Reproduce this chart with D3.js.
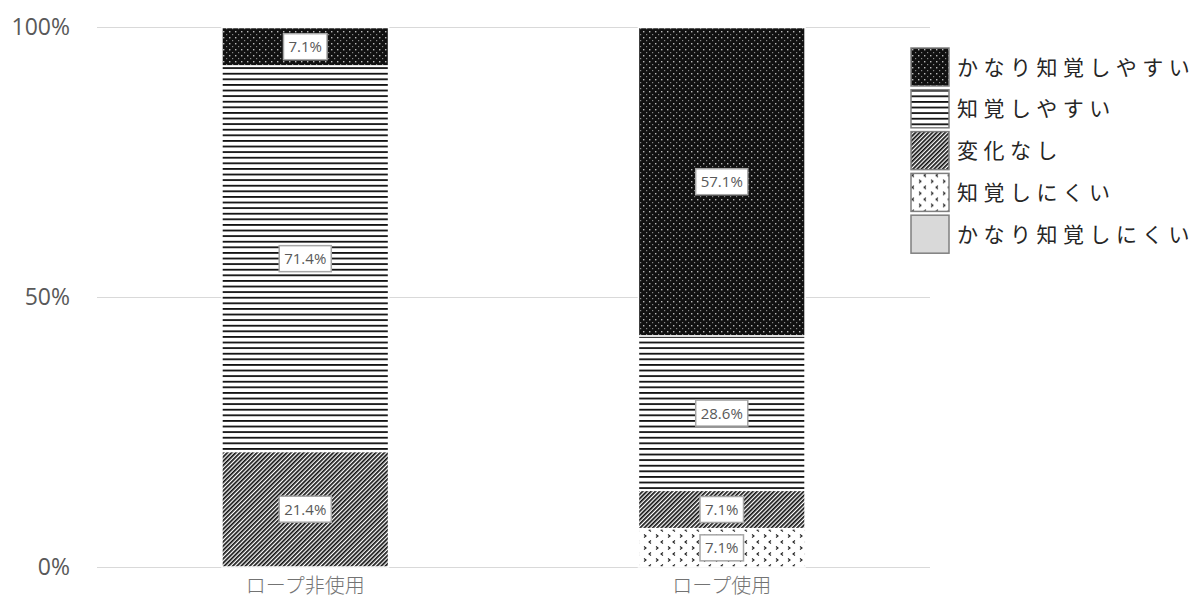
<!DOCTYPE html>
<html>
<head>
<meta charset="utf-8">
<script src="https://cdn.jsdelivr.net/npm/d3@7"></script>
<style>
  body { margin: 0; background: #fff; }
  text { font-family: "Open Sans", "Noto Sans CJK JP", sans-serif; }
  .jp { font-family: "Noto Sans CJK JP", sans-serif; }
</style>
</head>
<body>
<svg id="chart" width="1202" height="610"></svg>
<script>
// categories and series (bottom to top)
var categories = ["ロープ非使用", "ロープ使用"];
var seriesNames = ["かなり知覚しにくい", "知覚しにくい", "変化なし", "知覚しやすい", "かなり知覚しやすい"];
var seriesValues = {
  "かなり知覚しにくい": [0, 0],
  "知覚しにくい":       [0, 7.1],
  "変化なし":           [21.4, 7.1],
  "知覚しやすい":       [71.4, 28.6],
  "かなり知覚しやすい": [7.1, 57.1]
};
var yTicks = [0, 50, 100];
var legendOrder = ["かなり知覚しやすい", "知覚しやすい", "変化なし", "知覚しにくい", "かなり知覚しにくい"];

var svg = d3.select('#chart');
var margin = {left: 97, right: 272, top: 27, bottom: 43};
var W = 1202, H = 610;

var x = d3.scaleBand().domain(categories).range([margin.left, W - margin.right]).paddingInner(0.6).paddingOuter(0.3);
var y = d3.scaleLinear().domain([0, 100]).range([H - margin.bottom, margin.top]);

//Patterns
var defs = svg.append('defs');
var pid = {};
seriesNames.forEach(function(s, i){ pid[s] = 'pat' + i; });

// dots on black
var p = defs.append('pattern').attr('id', pid["かなり知覚しやすい"]).attr('patternUnits','userSpaceOnUse').attr('width', 6).attr('height', 6);
p.append('rect').attr('width', 6).attr('height', 6).attr('fill', '#111');
p.append('rect').attr('x', 1).attr('y', 1).attr('width', 1.4).attr('height', 1.4).attr('fill', '#bbb');
p.append('rect').attr('x', 4).attr('y', 4).attr('width', 1.2).attr('height', 1.2).attr('fill', '#888');

// horizontal lines
p = defs.append('pattern').attr('id', pid["知覚しやすい"]).attr('patternUnits','userSpaceOnUse').attr('width', 8).attr('height', 5.6);
p.append('rect').attr('width', 8).attr('height', 5.6).attr('fill', '#fff');
p.append('rect').attr('y', 0).attr('width', 8).attr('height', 1.8).attr('fill', '#111');

// diagonal stripes
p = defs.append('pattern').attr('id', pid["変化なし"]).attr('patternUnits','userSpaceOnUse').attr('width', 3).attr('height', 3).attr('patternTransform', 'rotate(45)');
p.append('rect').attr('width', 3).attr('height', 3).attr('fill', '#fff');
p.append('rect').attr('width', 1.7).attr('height', 3).attr('fill', '#111');

// small confetti
p = defs.append('pattern').attr('id', pid["知覚しにくい"]).attr('patternUnits','userSpaceOnUse').attr('width', 12).attr('height', 12);
p.append('rect').attr('width', 12).attr('height', 12).attr('fill', '#fff');
p.append('path').attr('d', 'M3,0.5 L1,2 L3,3.5 M8,6.5 L10,8 L8,9.5')
  .attr('fill', 'none').attr('stroke', '#222').attr('stroke-width', 1.1);

//Gridlines
svg.append('g').selectAll('line').data(yTicks).enter().append('line')
  .attr('x1', margin.left).attr('x2', W - margin.right + 0)
  .attr('y1', function(d){ return y(d) + 0.5; }).attr('y2', function(d){ return y(d) + 0.5; })
  .attr('stroke', '#d9d9d9').attr('stroke-width', 1);

//Y axis labels
svg.append('g').selectAll('text').data(yTicks).enter().append('text')
  .attr('x', 70).attr('y', function(d){ return y(d); }).attr('dy', '0.35em')
  .attr('text-anchor', 'end').attr('fill', '#595959').attr('font-size', 23)
  .text(function(d){ return d + '%'; });

//Stacked bars
var rows = categories.map(function(c, i){
  var r = {cat: c};
  seriesNames.forEach(function(s){ r[s] = seriesValues[s][i]; });
  return r;
});
var stack = d3.stack().keys(seriesNames)(rows);

var layers = svg.append('g').selectAll('g').data(stack).enter().append('g')
  .attr('fill', function(d){ return 'url(#' + pid[d.key] + ')'; });

layers.selectAll('rect').data(function(d){ return d.filter(function(v){ return v[1] - v[0] > 0; }); })
  .enter().append('rect')
  .attr('x', function(d){ return x(d.data.cat); })
  .attr('width', x.bandwidth())
  .attr('y', function(d){ return y(d[1]); })
  .attr('height', function(d){ return y(d[0]) - y(d[1]); })
  .attr('stroke', '#fff').attr('stroke-width', 1.5);

//Data labels
var labels = svg.append('g');
stack.forEach(function(layer){
  layer.forEach(function(v){
    var val = v[1] - v[0];
    if (val <= 0) return;
    var cx = x(v.data.cat) + x.bandwidth() / 2;
    var cy = (y(v[0]) + y(v[1])) / 2;
    var txt = val.toFixed(1) + '%';
    var g = labels.append('g').attr('transform', 'translate(' + cx + ',' + cy + ')');
    var t = g.append('text').attr('text-anchor', 'middle').attr('dy', '0.36em')
      .attr('font-size', 15).attr('fill', '#595959').text(txt);
    var bb = t.node().getBBox();
    g.insert('rect', 'text').attr('x', bb.x - 5).attr('y', -13).attr('width', bb.width + 10).attr('height', 26)
      .attr('fill', '#fff').attr('stroke', '#a6a6a6').attr('stroke-width', 1.5);
  });
});

//Category labels
svg.append('g').selectAll('text').data(categories).enter().append('text')
  .attr('class', 'jp')
  .attr('x', function(d){ return x(d) + x.bandwidth() / 2; }).attr('y', 593)
  .attr('text-anchor', 'middle').attr('fill', '#737373').attr('font-size', 20).attr('font-weight', 300)
  .text(function(d){ return d; });

//Legend
var lg = svg.append('g').selectAll('g').data(legendOrder).enter().append('g')
  .attr('transform', function(d, i){ return 'translate(911,' + (48 + i * 41.8) + ')'; });
lg.append('rect').attr('width', 38).attr('height', 38)
  .attr('fill', function(d){ return d === "かなり知覚しにくい" ? '#d9d9d9' : 'url(#' + pid[d] + ')'; })
  .attr('stroke', '#7f7f7f').attr('stroke-width', 1.5);
lg.append('text').attr('class', 'jp').attr('x', 46).attr('y', 19).attr('dy', '0.36em')
  .attr('font-size', 21).attr('letter-spacing', 5.5).attr('fill', '#262626')
  .text(function(d){ return d; });
</script>
</body>
</html>
